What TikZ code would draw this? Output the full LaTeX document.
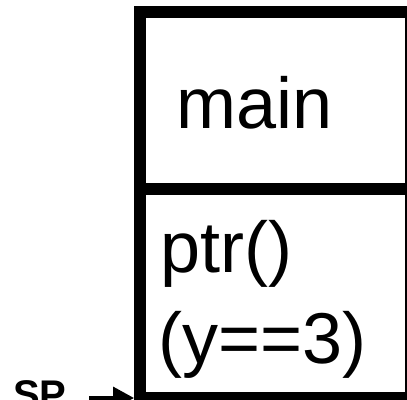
\documentclass[tikz,border=0pt]{standalone}
\usepackage{fontspec}
\setmainfont{Liberation Sans}
\usetikzlibrary{arrows.meta}
\begin{document}
\begin{tikzpicture}[x=1pt,y=-1pt,
  frame/.style={line width=12pt,line join=miter},
  label/.style={anchor=base west,inner sep=0pt,font=\fontsize{72}{86}\selectfont},
  splabel/.style={anchor=base west,inner sep=0pt,font=\fontsize{40}{48}\selectfont\bfseries},
  pointer/.style={line width=3.5pt,-{Triangle[length=21pt,width=22pt]}}]
\useasboundingbox (0,0) rectangle (407,399);
\clip (0,0) rectangle (407,399);
% stack frames
\draw[frame] (140,12) rectangle (411,188.5);
\draw[frame] (140,188.5) rectangle (411,398);
\coordinate (bottom) at (134,398);
% frame contents
\node[label] (main) at (176,128) {main};
\node[label] (ptr) at (160,272) {ptr()};
\node[label] (cond) at (158,363) {(y==3)};
% stack pointer
\node[splabel] (sp) at (13,408) {SP};
\draw[pointer] (89,398) -- (bottom);
\end{tikzpicture}
\end{document}
